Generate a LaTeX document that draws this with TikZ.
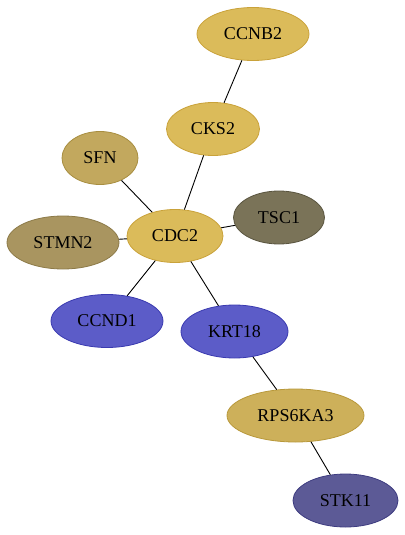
\documentclass[tikz,border=0pt]{standalone}
\usepackage{fontspec}
\setmainfont{Liberation Serif}
\usepackage{tikz}
\usetikzlibrary{shapes.geometric}
\definecolor{goldfill}{HTML}{DBBB5A}
\definecolor{golddraw}{HTML}{C9A23A}
\definecolor{sfnfill}{HTML}{C2A85E}
\definecolor{sfndraw}{HTML}{A88E40}
\definecolor{stmnfill}{HTML}{A99560}
\definecolor{stmndraw}{HTML}{8C7A48}
\definecolor{tscfill}{HTML}{7A7358}
\definecolor{tscdraw}{HTML}{5A5540}
\definecolor{rpsfill}{HTML}{CDB05A}
\definecolor{rpsdraw}{HTML}{B8983A}
\definecolor{bluefill}{HTML}{5C5CC8}
\definecolor{bluedraw}{HTML}{3A3AB0}
\definecolor{stkfill}{HTML}{5C5A96}
\definecolor{stkdraw}{HTML}{3E3C80}

\begin{document}
\begin{tikzpicture}[x=1pt, y=-1pt, line join=round,
    gene/.style={ellipse, draw, line width=0.8pt, inner sep=0pt, minimum height=53pt,
                 font=\fontsize{18}{18}\selectfont},
    link/.style={line width=0.9pt, black}]
  \useasboundingbox (0,0) rectangle (404,535);
  \node[gene, fill=goldfill, draw=golddraw, minimum width=112pt] (ccnb2) at (253,34)    {CCNB2};
  \node[gene, fill=goldfill, draw=golddraw, minimum width=93pt]  (cks2)  at (213,129)   {CKS2};
  \node[gene, fill=sfnfill, draw=sfndraw, minimum width=76pt]    (sfn)   at (100,158)   {SFN};
  \node[gene, fill=goldfill, draw=golddraw, minimum width=96pt]  (cdc2)  at (175,236)   {CDC2};
  \node[gene, fill=tscfill, draw=tscdraw, minimum width=91pt]    (tsc1)  at (279,217.5) {TSC1};
  \node[gene, fill=stmnfill, draw=stmndraw, minimum width=112pt] (stmn2) at (63,242.5)  {STMN2};
  \node[gene, fill=bluefill, draw=bluedraw, minimum width=112pt] (ccnd1) at (107,321)   {CCND1};
  \node[gene, fill=bluefill, draw=bluedraw, minimum width=107pt] (krt18) at (234.5,331.5) {KRT18};
  \node[gene, fill=rpsfill, draw=rpsdraw, minimum width=137pt]   (rps6ka3) at (295.5,415.5) {RPS6KA3};
  \node[gene, fill=stkfill, draw=stkdraw, minimum width=105pt]   (stk11) at (345.5,500.5) {STK11};
  % interactions
  \draw[link] (ccnb2) -- (cks2);
  \draw[link] (cks2) -- (cdc2);
  \draw[link] (sfn) -- (cdc2);
  \draw[link] (stmn2) -- (cdc2);
  \draw[link] (tsc1) -- (cdc2);
  \draw[link] (ccnd1) -- (cdc2);
  \draw[link] (krt18) -- (cdc2);
  \draw[link] (krt18) -- (rps6ka3);
  \draw[link] (rps6ka3) -- (stk11);
\end{tikzpicture}
\end{document}
